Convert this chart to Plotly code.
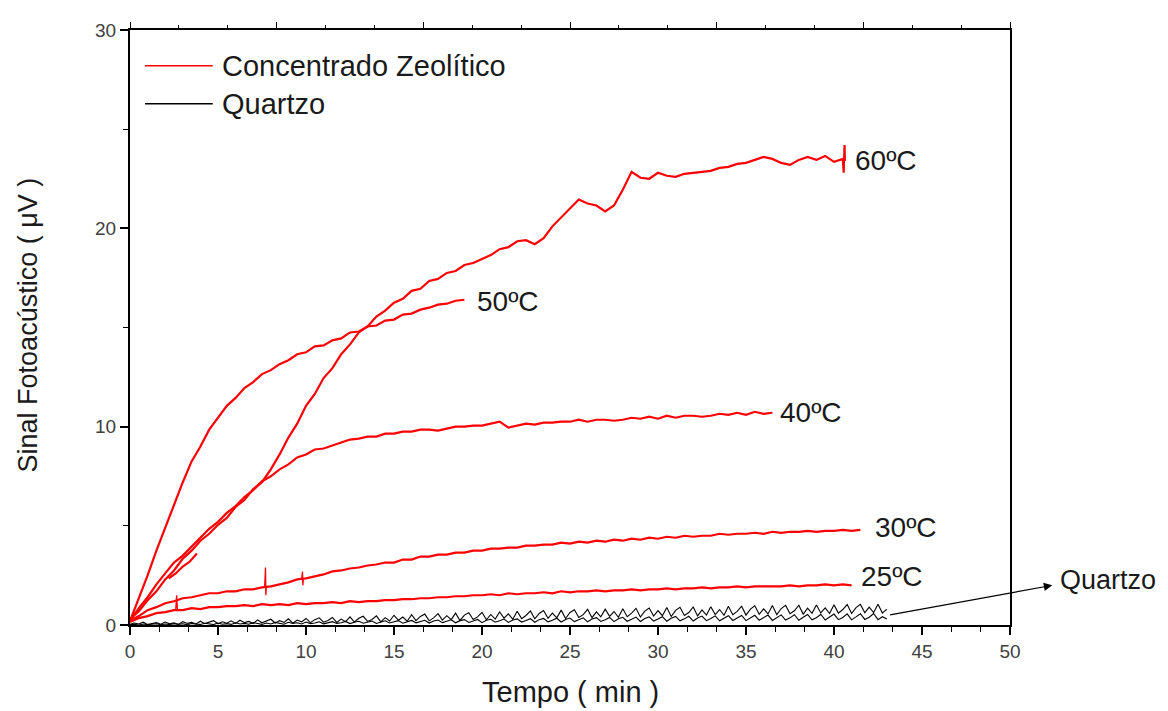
import numpy as np
import plotly.graph_objects as go

# ---------------- data ----------------
STEP = 0.5    # sampling interval of the red read-off points (min)
QSTEP = 0.25  # sampling interval of the quartz read-off points (min)

y60 = [0.3, 0.7, 1.25, 1.7, 2.3, 2.75, 3.35, 3.75, 4.25, 4.6,
       5.05, 5.4, 5.95, 6.3, 6.85, 7.2, 7.85, 8.6, 9.45, 10.15,
       11.05, 11.65, 12.45, 12.95, 13.65, 14.15, 14.75, 15.05, 15.55, 15.85,
       16.25, 16.45, 16.85, 16.95, 17.35, 17.45, 17.75, 17.85, 18.15, 18.25,
       18.45, 18.65, 18.95, 19.05, 19.35, 19.4, 19.2, 19.5, 20.1, 20.55,
       20.95, 21.45, 21.25, 21.15, 20.85, 21.15, 21.95, 22.85, 22.55, 22.5,
       22.8, 22.65, 22.6, 22.75, 22.8, 22.85, 22.9, 23.05, 23.1, 23.25,
       23.3, 23.45, 23.6, 23.5, 23.3, 23.2, 23.45, 23.6, 23.45, 23.65,
       23.35, 23.5]
t60_end = [40.55, 40.6, 40.62]
y60_end = [22.8, 24.2, 23.4]

y50 = [0.2, 1.3, 2.5, 3.75, 4.9, 6.1, 7.2, 8.25, 9.0, 9.85,
       10.45, 11.05, 11.45, 11.95, 12.25, 12.65, 12.85, 13.15, 13.35, 13.65,
       13.75, 14.05, 14.1, 14.35, 14.45, 14.75, 14.8, 15.05, 15.1, 15.35,
       15.4, 15.65, 15.7, 15.9, 16.0, 16.15, 16.2, 16.35, 16.4]

y40 = [0.2, 0.85, 1.4, 2.05, 2.6, 3.15, 3.5, 3.95, 4.4, 4.85,
       5.2, 5.65, 6.0, 6.45, 6.8, 7.25, 7.5, 7.85, 8.1, 8.45,
       8.6, 8.85, 8.9, 9.05, 9.2, 9.35, 9.4, 9.5, 9.5, 9.65,
       9.65, 9.75, 9.75, 9.85, 9.85, 9.8, 9.9, 10.0, 10.0, 10.05,
       10.05, 10.15, 10.25, 9.95, 10.05, 10.15, 10.1, 10.2, 10.2, 10.25,
       10.25, 10.35, 10.25, 10.35, 10.35, 10.3, 10.35, 10.45, 10.4, 10.5,
       10.4, 10.55, 10.45, 10.55, 10.55, 10.5, 10.55, 10.65, 10.6, 10.7,
       10.6, 10.75, 10.65, 10.7]

short_t = [2.2, 2.6, 3.0, 3.4, 3.8]
short_y = [2.35, 2.6, 2.95, 3.2, 3.6]

y30 = [0.2, 0.45, 0.75, 0.9, 1.1, 1.2, 1.35, 1.4, 1.5, 1.6,
       1.6, 1.7, 1.7, 1.8, 1.8, 1.9, 1.95, 2.05, 2.15, 2.3,
       2.35, 2.45, 2.55, 2.7, 2.75, 2.85, 2.9, 3.0, 3.05, 3.15,
       3.15, 3.3, 3.3, 3.45, 3.45, 3.55, 3.55, 3.65, 3.65, 3.75,
       3.75, 3.85, 3.85, 3.9, 3.9, 4.0, 4.0, 4.05, 4.05, 4.15,
       4.1, 4.2, 4.15, 4.25, 4.2, 4.3, 4.25, 4.35, 4.3, 4.4,
       4.35, 4.45, 4.4, 4.5, 4.45, 4.5, 4.5, 4.6, 4.55, 4.6,
       4.6, 4.65, 4.6, 4.7, 4.65, 4.7, 4.7, 4.75, 4.7, 4.75,
       4.75, 4.8, 4.75, 4.8]
spike30a_t = [7.65, 7.7, 7.72, 7.75]
spike30a_y = [1.9, 2.9, 1.5, 1.95]
spike30b_t = [9.75, 9.8, 9.82, 9.85]
spike30b_y = [2.3, 2.7, 2.0, 2.35]

y25 = [0.15, 0.35, 0.45, 0.6, 0.65, 0.75, 0.75, 0.85, 0.8, 0.9,
       0.9, 0.95, 0.95, 1.0, 0.95, 1.05, 1.0, 1.05, 1.0, 1.1,
       1.05, 1.1, 1.1, 1.15, 1.1, 1.2, 1.15, 1.2, 1.2, 1.25,
       1.25, 1.3, 1.3, 1.35, 1.35, 1.4, 1.4, 1.45, 1.45, 1.5,
       1.5, 1.55, 1.5, 1.6, 1.55, 1.6, 1.6, 1.65, 1.6, 1.7,
       1.65, 1.7, 1.7, 1.75, 1.7, 1.75, 1.75, 1.8, 1.75, 1.8,
       1.8, 1.85, 1.8, 1.85, 1.85, 1.9, 1.85, 1.9, 1.9, 1.95,
       1.9, 1.95, 1.95, 1.95, 1.95, 2.0, 1.95, 2.0, 2.0, 2.05,
       2.0, 2.05, 2.0]
spike25_t = [2.6, 2.65, 2.7]
spike25_y = [0.75, 1.5, 0.7]

quartz_hi = [0.03, 0.10, 0.05, 0.14, 0.02, 0.09, 0.12, 0.04,
             0.15, 0.06, 0.11, 0.03, 0.17, 0.08, 0.13, 0.05,
             0.19, 0.07, 0.14, 0.22, 0.06, 0.16, 0.09, 0.21,
             0.08, 0.24, 0.12, 0.18, 0.07, 0.26, 0.11, 0.2,
             0.29, 0.1, 0.22, 0.13, 0.31, 0.09, 0.25, 0.16,
             0.33, 0.12, 0.27, 0.36, 0.14, 0.23, 0.38, 0.13,
             0.3, 0.17, 0.41, 0.15, 0.34, 0.44, 0.18, 0.28,
             0.46, 0.16, 0.37, 0.2, 0.49, 0.24, 0.4, 0.19,
             0.52, 0.22, 0.43, 0.55, 0.21, 0.36, 0.57, 0.25,
             0.47, 0.27, 0.6, 0.23, 0.5, 0.62, 0.28, 0.41,
             0.64, 0.26, 0.53, 0.3, 0.66, 0.35, 0.56, 0.29,
             0.69, 0.32, 0.48, 0.71, 0.31, 0.58, 0.73, 0.34,
             0.6, 0.36, 0.75, 0.33, 0.63, 0.77, 0.38, 0.52,
             0.79, 0.37, 0.66, 0.41, 0.8, 0.44, 0.68, 0.39,
             0.82, 0.42, 0.6, 0.84, 0.4, 0.7, 0.86, 0.45,
             0.72, 0.47, 0.88, 0.43, 0.74, 0.89, 0.48, 0.63,
             0.91, 0.46, 0.76, 0.5, 0.92, 0.53, 0.78, 0.49,
             0.94, 0.52, 0.69, 0.95, 0.5, 0.8, 0.97, 0.54,
             0.81, 0.56, 0.98, 0.52, 0.83, 0.99, 0.57, 0.72,
             1.0, 0.55, 0.85, 0.59, 1.01, 0.61, 0.86, 0.58,
             1.02, 0.6, 0.78, 1.03, 0.58, 0.88, 1.04, 0.62,
             0.9, 0.63, 1.05, 0.6, 0.8]
quartz_lo = [0.01, 0.04, 0.0, 0.05, 0.02, 0.03, 0.06, 0.01,
             0.05, 0.02, 0.07, 0.03, 0.06, 0.01, 0.08, 0.04,
             0.03, 0.09, 0.05, 0.02, 0.1, 0.04, 0.07, 0.03,
             0.11, 0.05, 0.08, 0.04, 0.12, 0.06, 0.03, 0.1,
             0.05, 0.13, 0.07, 0.04, 0.14, 0.08, 0.11, 0.05,
             0.15, 0.07, 0.1, 0.16, 0.06, 0.12, 0.17, 0.08,
             0.11, 0.18, 0.07, 0.14, 0.19, 0.09, 0.13, 0.2,
             0.08, 0.16, 0.21, 0.1, 0.15, 0.22, 0.09, 0.18,
             0.23, 0.11, 0.17, 0.24, 0.1, 0.2, 0.25, 0.12,
             0.19, 0.26, 0.11, 0.22, 0.27, 0.13, 0.2, 0.28,
             0.12, 0.24, 0.29, 0.14, 0.21, 0.3, 0.13, 0.25,
             0.31, 0.15, 0.23, 0.32, 0.14, 0.27, 0.33, 0.16,
             0.24, 0.34, 0.15, 0.28, 0.35, 0.17, 0.26, 0.36,
             0.16, 0.3, 0.37, 0.18, 0.27, 0.38, 0.17, 0.31,
             0.39, 0.19, 0.29, 0.4, 0.18, 0.33, 0.41, 0.2,
             0.3, 0.42, 0.19, 0.34, 0.43, 0.21, 0.31, 0.44,
             0.2, 0.35, 0.45, 0.22, 0.33, 0.46, 0.21, 0.36,
             0.47, 0.23, 0.34, 0.48, 0.22, 0.37, 0.49, 0.24,
             0.35, 0.5, 0.23, 0.38, 0.51, 0.25, 0.36, 0.52,
             0.24, 0.39, 0.53, 0.26, 0.37, 0.54, 0.25, 0.4,
             0.55, 0.27, 0.38, 0.56, 0.26, 0.41, 0.57, 0.28,
             0.39, 0.58, 0.27, 0.42, 0.3]

curve_labels = ["60ºC", "50ºC", "40ºC", "30ºC", "25ºC"]
label_x = [41.1, 19.6, 36.8, 42.2, 41.4]
label_y = [23.4, 16.3, 10.7, 4.9, 2.45]

x_ticks = [0, 5, 10, 15, 20, 25, 30, 35, 40, 45, 50]
y_ticks = [0, 10, 20, 30]

legend_names = ["Concentrado Zeolítico", "Quartzo"]

RED = "#ff0000"
BLACK = "#000000"
TXT = "#1a1a1a"
FONT = "Liberation Sans, Arial, sans-serif"


def tgrid(vals, step=STEP):
    return np.arange(len(vals)) * step


fig = go.Figure()


def add_line(x, y, color, width=2.2):
    fig.add_trace(go.Scatter(x=list(x), y=list(y), mode="lines",
                             line=dict(color=color, width=width),
                             showlegend=False, hoverinfo="skip"))


# quartz (black)
add_line(tgrid(quartz_lo, QSTEP), quartz_lo, BLACK, 1.1)
add_line(tgrid(quartz_hi, QSTEP), quartz_hi, BLACK, 1.1)

# zeolite (red)
add_line(tgrid(y25), y25, RED)
add_line(spike25_t, spike25_y, RED, 1.3)
add_line(tgrid(y30), y30, RED)
add_line(spike30a_t, spike30a_y, RED, 1.3)
add_line(spike30b_t, spike30b_y, RED, 1.3)
add_line(tgrid(y40), y40, RED)
add_line(short_t, short_y, RED)
add_line(tgrid(y50), y50, RED)
add_line(list(tgrid(y60)) + t60_end, y60 + y60_end, RED)

# invisible trace to host the top axis
fig.add_trace(go.Scatter(x=[0], y=[0], xaxis="x2", mode="markers",
                         marker=dict(opacity=0), showlegend=False,
                         hoverinfo="skip"))

annotations = []
for txt, lx, ly in zip(curve_labels, label_x, label_y):
    annotations.append(dict(x=lx, y=ly, xref="x", yref="y", text=txt,
                            showarrow=False, xanchor="left", yanchor="middle",
                            font=dict(family=FONT, size=28, color=TXT)))

# Quartzo arrow (tail at the data, head at the text)
annotations.append(dict(x=52.4, y=2.0, xref="x", yref="y", ax=43.1, ay=0.5,
                        axref="x", ayref="y", text="", showarrow=True,
                        arrowhead=2, arrowsize=1.4, arrowwidth=1.2,
                        arrowcolor=BLACK))
annotations.append(dict(x=1.0545, y=0.075, xref="paper", yref="paper",
                        text="Quartzo", showarrow=False, xanchor="left",
                        yanchor="middle",
                        font=dict(family=FONT, size=27, color=TXT)))

# axis titles
annotations.append(dict(x=0.5, y=-0.113, xref="paper", yref="paper",
                        text="Tempo ( min )", showarrow=False,
                        xanchor="center", yanchor="middle",
                        font=dict(family=FONT, size=29, color=TXT)))
annotations.append(dict(x=-0.116, y=0.505, xref="paper", yref="paper",
                        text="Sinal Fotoacústico ( μV )", showarrow=False,
                        textangle=-90, xanchor="center", yanchor="middle",
                        font=dict(family=FONT, size=27, color=TXT)))

# manual legend
shapes = []
leg_colors = [RED, BLACK]
leg_y = [0.94, 0.876]
for name, col, ly in zip(legend_names, leg_colors, leg_y):
    shapes.append(dict(type="line", xref="paper", yref="paper",
                       x0=0.017, x1=0.094, y0=ly, y1=ly,
                       line=dict(color=col, width=1.5)))
    annotations.append(dict(x=0.102, y=ly, xref="paper", yref="paper",
                            text=name, showarrow=False, xanchor="left",
                            yanchor="middle",
                            font=dict(family=FONT, size=29, color=TXT)))

fig.update_layout(
    width=1168, height=711,
    margin=dict(l=122, r=166, t=18, b=94),
    paper_bgcolor="white", plot_bgcolor="white",
    showlegend=False,
    annotations=annotations, shapes=shapes,
    xaxis=dict(range=[0, 50], tickvals=x_ticks,
               ticktext=[str(v) for v in x_ticks],
               ticks="outside", ticklen=8, tickwidth=1.6, tickcolor=BLACK,
               minor=dict(dtick=5 / 3, tick0=0, ticks="outside", ticklen=5,
                          tickwidth=1.4, tickcolor=BLACK, showgrid=False),
               showline=True, linecolor=BLACK, linewidth=2, mirror=True,
               showgrid=False, zeroline=False,
               tickfont=dict(family=FONT, size=19, color="#404040")),
    xaxis2=dict(range=[0, 60], overlaying="x", side="top", anchor="y",
                dtick=10, tick0=0, ticks="outside", ticklen=6, tickwidth=1.4,
                tickcolor=BLACK,
                minor=dict(dtick=10 / 3, tick0=0, ticks="outside", ticklen=3,
                           tickwidth=1.2, tickcolor=BLACK, showgrid=False),
                showticklabels=False, showline=True, linecolor=BLACK,
                linewidth=2, showgrid=False, zeroline=False),
    yaxis=dict(range=[0, 30], tickvals=y_ticks,
               ticktext=[str(v) for v in y_ticks],
               ticks="outside", ticklen=8, tickwidth=1.6, tickcolor=BLACK,
               minor=dict(dtick=5, tick0=0, ticks="outside", ticklen=5,
                          tickwidth=1.4, tickcolor=BLACK, showgrid=False),
               showline=True, linecolor=BLACK, linewidth=2, mirror=True,
               showgrid=False, zeroline=False,
               tickfont=dict(family=FONT, size=19, color="#404040")),
)

fig.write_html("out.html")
